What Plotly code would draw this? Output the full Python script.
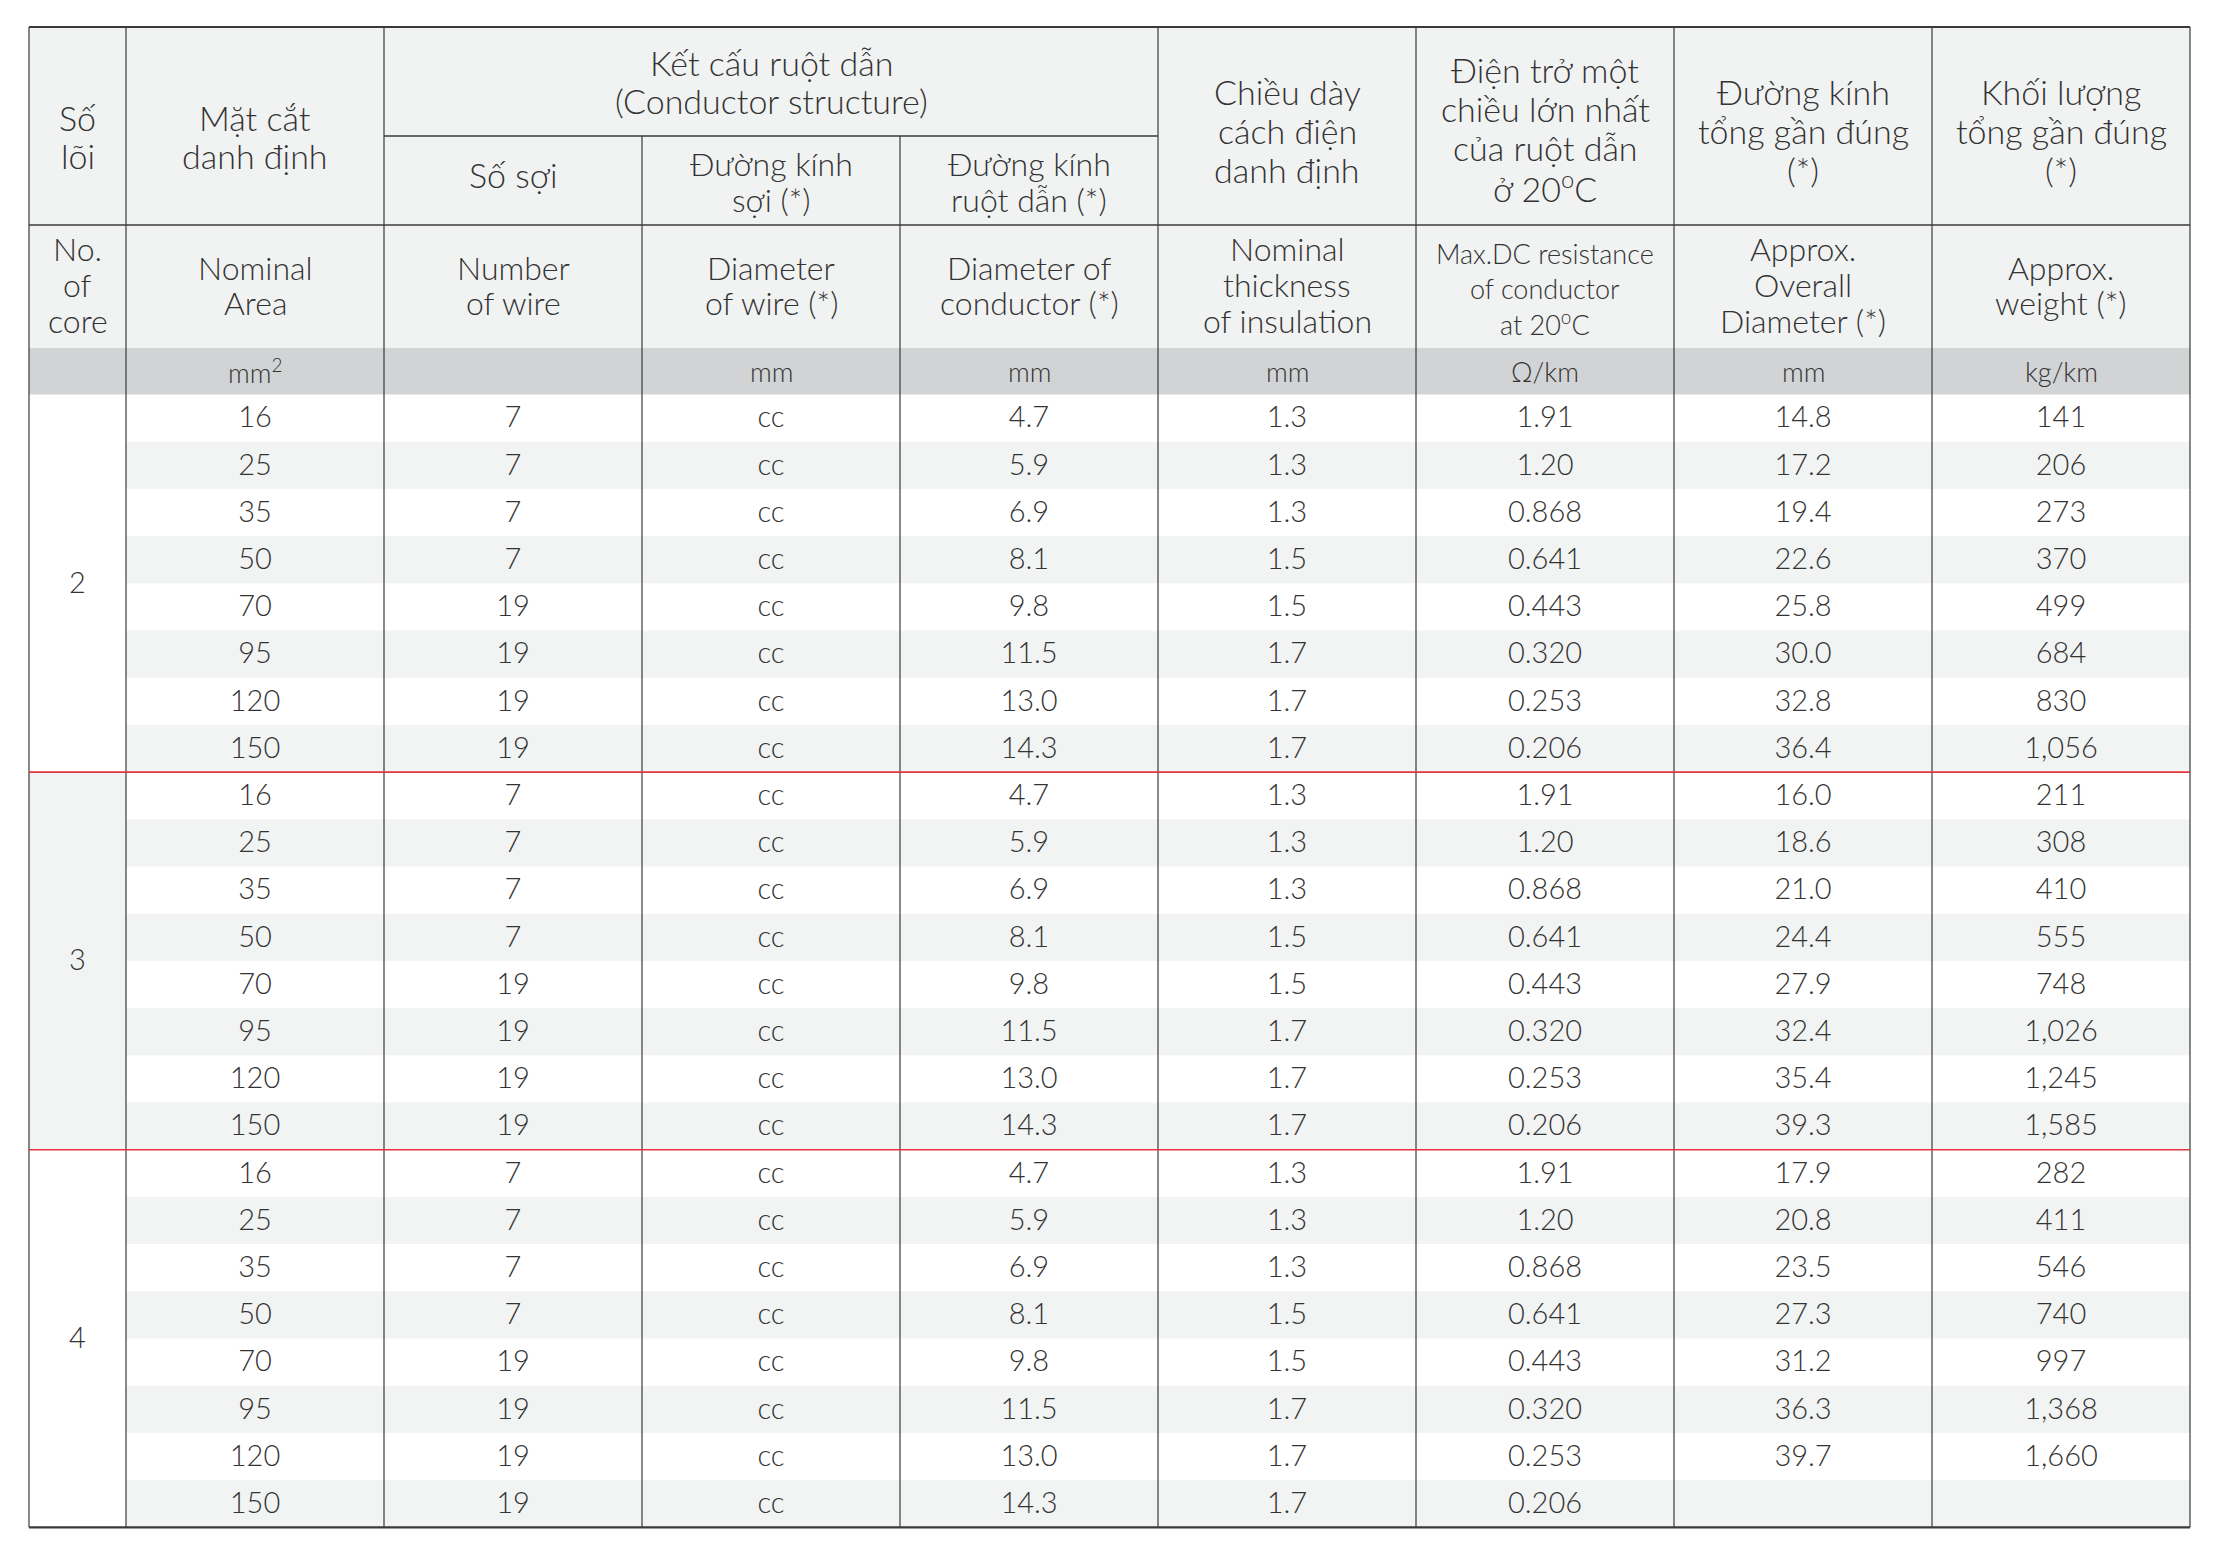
import plotly.graph_objects as go

# ---------------- data ----------------
cores = ["2", "3", "4"]
areas = ["16", "25", "35", "50", "70", "95", "120", "150"]
wire_count = ["7", "7", "7", "7", "19", "19", "19", "19"]
wire_dia = ["cc", "cc", "cc", "cc", "cc", "cc", "cc", "cc"]
cond_dia = ["4.7", "5.9", "6.9", "8.1", "9.8", "11.5", "13.0", "14.3"]
insulation = ["1.3", "1.3", "1.3", "1.5", "1.5", "1.7", "1.7", "1.7"]
resistance = ["1.91", "1.20", "0.868", "0.641", "0.443", "0.320", "0.253", "0.206"]
overall_dia_2 = ["14.8", "17.2", "19.4", "22.6", "25.8", "30.0", "32.8", "36.4"]
overall_dia_3 = ["16.0", "18.6", "21.0", "24.4", "27.9", "32.4", "35.4", "39.3"]
overall_dia_4 = ["17.9", "20.8", "23.5", "27.3", "31.2", "36.3", "39.7", ""]
weight_2 = ["141", "206", "273", "370", "499", "684", "830", "1,056"]
weight_3 = ["211", "308", "410", "555", "748", "1,026", "1,245", "1,585"]
weight_4 = ["282", "411", "546", "740", "997", "1,368", "1,660", ""]

header_vi = ["Số<br>lõi", "Mặt cắt<br>danh định",
             "Số sợi", "Đường kính<br>sợi (*)", "Đường kính<br>ruột dẫn (*)",
             "Chiều dày<br>cách điện<br>danh định",
             "Điện trở một<br>chiều lớn nhất<br>của ruột dẫn<br>ở 20<sup>o</sup>C",
             "Đường kính<br>tổng gần đúng<br>(*)",
             "Khối lượng<br>tổng gần đúng<br>(*)"]
header_vi_group = "Kết cấu ruột dẫn<br>(Conductor structure)"
header_en = ["No.<br>of<br>core", "Nominal<br>Area", "Number<br>of wire",
             "Diameter<br>of wire (*)", "Diameter of<br>conductor (*)",
             "Nominal<br>thickness<br>of insulation",
             "Max.DC resistance<br>of conductor<br>at 20<sup>o</sup>C",
             "Approx.<br>Overall<br>Diameter (*)", "Approx.<br>weight (*)"]
units = ["", "mm<sup>2</sup>", "", "mm", "mm", "mm", "Ω/km", "mm", "kg/km"]

overall_by_core = [overall_dia_2, overall_dia_3, overall_dia_4]
weight_by_core = [weight_2, weight_3, weight_4]

# ---------------- geometry (page pixel coordinates) ----------------
W, H = 2218, 1541
BODY = 8  # default page margin around the plot div
X0 = 29
col_w = [97] + [258] * 8
edges = [X0]
for w in col_w:
    edges.append(edges[-1] + w)
centers = [(edges[i] + edges[i + 1]) / 2 for i in range(len(col_w))]

Y_TOP, Y_SUB, Y_H1, Y_H2, Y_DATA, Y_BOT = 27, 136, 225, 348, 394.5, 1527.3
n_rows = len(cores) * len(areas)
row_h = (Y_BOT - Y_DATA) / n_rows

def row_top(r):
    return Y_DATA + r * row_h

FONT = "Lato"
TXT = "#333333"
LINE = "#3a3a3a"
RED = "#e3353d"
HDR_BG = "#f1f2f2"
UNIT_BG = "#d1d3d4"
ALT_BG = "#f2f3f3"

# header text layout: first baseline and line spacing per column
vi_base = [130, 130, 187, 175, 175, 104, 82, 104, 104]
vi_step = [38, 38, 38, 36, 36, 39, 39, 39, 39]
en_base = [260, 279, 279, 279, 279, 260, 263, 260, 279]
en_step = [36, 35, 35, 35, 35, 36, 35, 36, 35]
VI_SIZE, EN_SIZE, EN_SMALL, UNIT_SIZE, DATA_SIZE = 34, 32, 27, 27, 29
DATA_DY = 2

shapes = []

def rect(x0, x1, y0, y1, color):
    shapes.append(dict(type="rect", xref="x", yref="y", x0=x0, x1=x1, y0=y0, y1=y1,
                       fillcolor=color, line=dict(width=0), layer="below"))

def line(x0, x1, y0, y1, color=LINE, width=1.2):
    shapes.append(dict(type="line", xref="x", yref="y", x0=x0, x1=x1, y0=y0, y1=y1,
                       line=dict(color=color, width=width), layer="above"))

# backgrounds
rect(edges[0], edges[-1], Y_TOP, Y_H2, HDR_BG)
rect(edges[0], edges[-1], Y_H2, Y_DATA, UNIT_BG)
for r in range(n_rows):
    if r % 2 == 1:
        rect(edges[1], edges[-1], row_top(r), row_top(r + 1), ALT_BG)
for g in range(len(cores)):
    if g % 2 == 1:
        rect(edges[0], edges[1], row_top(g * len(areas)), row_top((g + 1) * len(areas)), ALT_BG)

# vertical lines
for i, x in enumerate(edges):
    y_start = Y_SUB if i in (3, 4) else Y_TOP
    line(x, x, y_start, Y_BOT)

# horizontal lines
line(edges[0], edges[-1], Y_TOP, Y_TOP, width=2)
line(edges[2], edges[5], Y_SUB, Y_SUB, width=1.6)
line(edges[0], edges[-1], Y_H1, Y_H1, width=1.6)
for g in range(1, len(cores)):
    y = row_top(g * len(areas))
    line(edges[0], edges[-1], y, y, color=RED, width=1.6)
line(edges[0], edges[-1], Y_BOT, Y_BOT, width=2.2)

# ---------------- text ----------------
annotations = []

def ann_lines(x, base, step, text, size):
    for j, t in enumerate(text.split("<br>")):
        y = base + j * step - 0.36 * size
        annotations.append(dict(x=x, y=y, xref="x", yref="y", text=t, showarrow=False,
                                xanchor="center", yanchor="middle", align="center",
                                font=dict(family=FONT, size=size, color=TXT, weight=300)))

ann_lines((edges[2] + edges[5]) / 2, 75, 38, header_vi_group, VI_SIZE)
for k, t in enumerate(header_vi):
    ann_lines(centers[k], vi_base[k], vi_step[k], t, VI_SIZE if k not in (3, 4) else 32)
for k, t in enumerate(header_en):
    ann_lines(centers[k], en_base[k], en_step[k], t, EN_SMALL if k == 6 else EN_SIZE)
for k, t in enumerate(units):
    if t:
        ann_lines(centers[k], (Y_H2 + Y_DATA) / 2 + 0.36 * UNIT_SIZE, 0, t, UNIT_SIZE)

fig = go.Figure()

# data cells: one text trace per column (blank cells are left empty)
col_values = [[], [], [], [], [], [], [], []]
row_centers = []
for g in range(len(cores)):
    for i in range(len(areas)):
        r = g * len(areas) + i
        row_centers.append(row_top(r) + row_h / 2 + DATA_DY)
        col_values[0].append(areas[i])
        col_values[1].append(wire_count[i])
        col_values[2].append(wire_dia[i])
        col_values[3].append(cond_dia[i])
        col_values[4].append(insulation[i])
        col_values[5].append(resistance[i])
        col_values[6].append(overall_by_core[g][i])
        col_values[7].append(weight_by_core[g][i])

for c, vals in enumerate(col_values):
    ys = [y for y, v in zip(row_centers, vals) if v]
    txt = [v for v in vals if v]
    fig.add_trace(go.Scatter(
        x=[centers[c + 1]] * len(txt), y=ys, text=txt, mode="text",
        textposition="middle center", hoverinfo="skip", showlegend=False,
        textfont=dict(family=FONT, size=DATA_SIZE, color=TXT, weight=300)))

core_y = [(row_top(g * len(areas)) + row_top((g + 1) * len(areas))) / 2 + DATA_DY
          for g in range(len(cores))]
fig.add_trace(go.Scatter(
    x=[centers[0]] * len(cores), y=core_y, text=cores, mode="text",
    textposition="middle center", hoverinfo="skip", showlegend=False,
    textfont=dict(family=FONT, size=DATA_SIZE, color=TXT, weight=300)))

fig_w, fig_h = W - 2 * BODY, H - 2 * BODY
fig.update_layout(
    width=fig_w, height=fig_h, margin=dict(l=0, r=0, t=0, b=0),
    paper_bgcolor="white", plot_bgcolor="white",
    xaxis=dict(range=[BODY, BODY + fig_w], visible=False, fixedrange=True),
    yaxis=dict(range=[BODY + fig_h, BODY], visible=False, fixedrange=True),
    shapes=shapes, annotations=annotations, showlegend=False,
)

fig.write_html("out.html")
